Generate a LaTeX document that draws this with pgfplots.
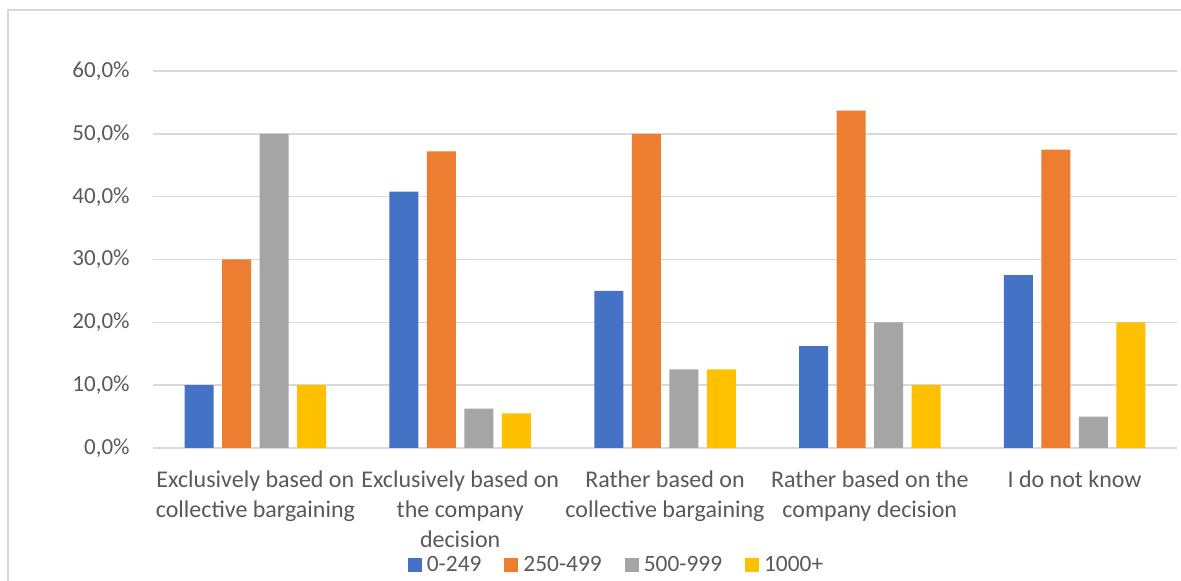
\documentclass[border=0pt]{standalone}
\usepackage{pgfplots}
\pgfplotsset{compat=1.18}
\usepackage{fontspec}
\setmainfont{Carlito}
\definecolor{c1}{HTML}{4472C4}
\definecolor{c2}{HTML}{ED7D31}
\definecolor{c3}{HTML}{A5A5A5}
\definecolor{c4}{HTML}{FFC000}
\definecolor{txt}{HTML}{595959}
\definecolor{grd}{HTML}{D9D9D9}
\begin{document}
\begin{tikzpicture}
\begin{axis}[
  at={(0,0)}, anchor=south west,
  scale only axis,
  width=512pt, height=188.5pt,
  xmin=-0.5, xmax=4.5, ymin=0, ymax=60,
  ybar=4.25pt, bar width=14.5pt,
  axis line style={draw=none},
  major tick length=0pt,
  ymajorgrids, grid style={grd, line width=0.75pt},
  ytick={0,10,20,30,40,50,60},
  yticklabels={{0,0\%},{10,0\%},{20,0\%},{30,0\%},{40,0\%},{50,0\%},{60,0\%}},
  yticklabel style={anchor=east, inner sep=0pt, xshift=-11.5pt, text=txt, font=\fontsize{11.5}{14}\selectfont},
  xtick={0,1,2,3,4},
  xticklabels={{Exclusively based on\\collective bargaining},{Exclusively based on\\the company\\decision},{Rather based on\\collective bargaining},{Rather based on the\\company decision},{I do not know}},
  xticklabel style={anchor=north, align=center, inner sep=0pt, yshift=-11.3pt, text=txt, font=\fontsize{12}{15}\selectfont},
  legend columns=4,
  legend style={at={(0.4517,-0.3110)}, anchor=center, draw=none, fill=none,
    font=\fontsize{11.7}{14}\selectfont, text=txt,
    nodes={inner sep=0pt},
    /tikz/every odd column/.append style={column sep=2.5pt},
    /tikz/every even column/.append style={column sep=11.5pt}},
  legend image code/.code={\fill[#1,draw=none] (0pt,-3.5pt) rectangle (7pt,3.5pt);},
]
\addplot[fill=c1, draw=none] coordinates {(0,10) (1,40.8) (2,25) (3,16.2) (4,27.5)};
\addplot[fill=c2, draw=none] coordinates {(0,30) (1,47.2) (2,50) (3,53.7) (4,47.5)};
\addplot[fill=c3, draw=none] coordinates {(0,50) (1,6.25) (2,12.5) (3,20) (4,5)};
\addplot[fill=c4, draw=none] coordinates {(0,10) (1,5.5) (2,12.5) (3,10) (4,20)};
\legend{0-249,250-499,500-999,1000+}
\end{axis}
\draw[grd, line width=0.75pt] (-72.5pt,-70pt) -- (-72.5pt,219pt) -- (520pt,219pt);
\pgfresetboundingbox
\path[use as bounding box] (-76.5pt,-66.5pt) rectangle (514pt,224pt);
\end{tikzpicture}
\end{document}
